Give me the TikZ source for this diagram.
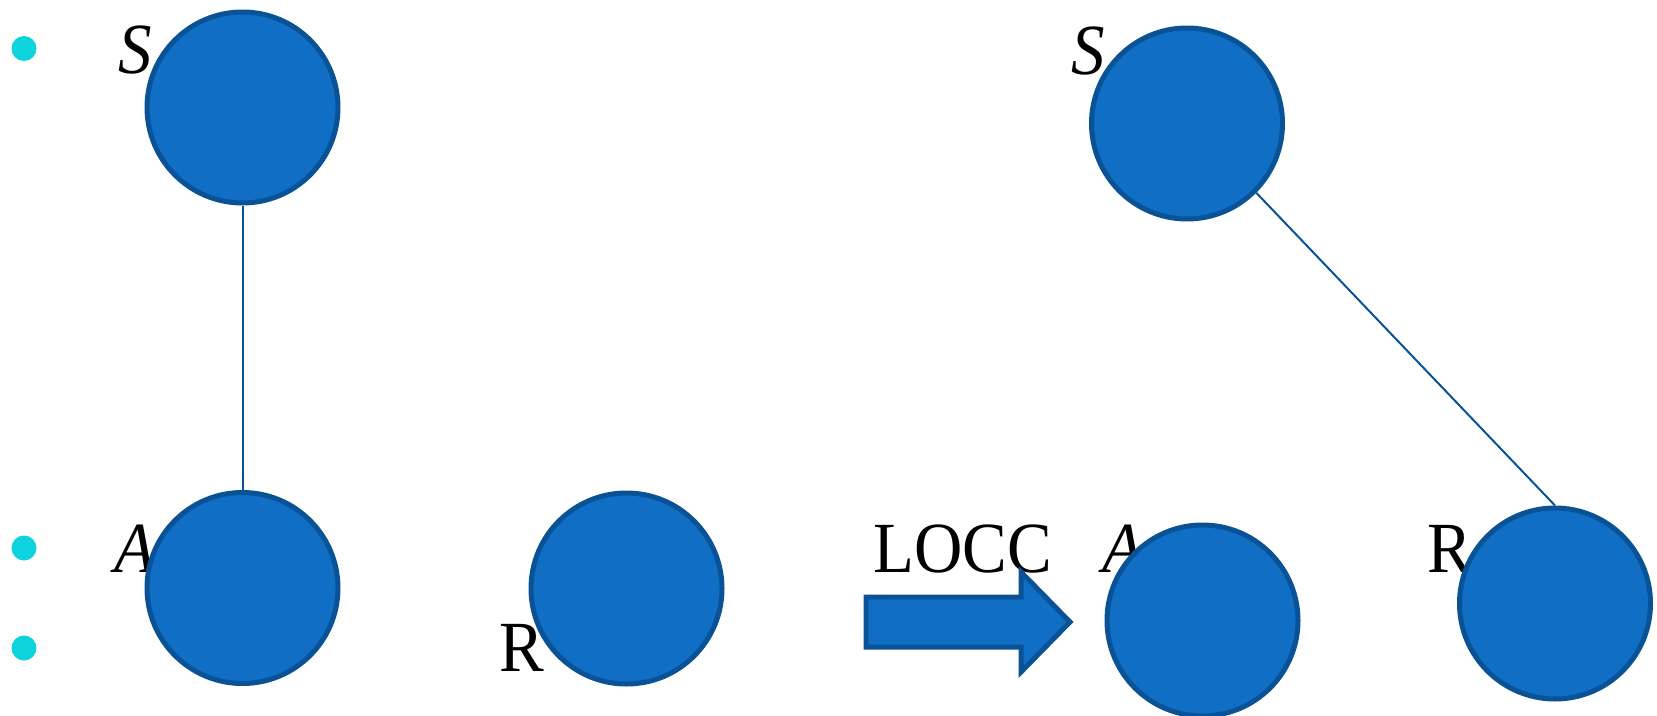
\documentclass[tikz,border=0pt]{standalone}
\usepackage{fontspec}
\setmainfont[FakeStretch=0.93]{Liberation Serif}
\definecolor{qfill}{RGB}{16,111,196}
\definecolor{qedge}{RGB}{10,82,150}
\definecolor{qdot}{RGB}{14,210,220}
\tikzset{
  qubit/.style={circle, fill=qfill, draw=qedge, line width=5pt, minimum size=191pt, inner sep=0pt},
  lbl/.style={anchor=base west, inner sep=0pt, font=\fontsize{72}{84}\selectfont},
  link/.style={draw=qedge, line width=2pt},
  bulletdot/.style={circle, fill=qdot, minimum size=25pt, inner sep=0pt},
  bigarrow/.style={fill=qfill, draw=qedge, line width=5pt, line join=miter}
}
\begin{document}
\begin{tikzpicture}[x=1pt, y=-1pt]
\useasboundingbox (0,0) rectangle (1657,715);

% bullets on the left margin
\node[bulletdot] (b1) at (24,48.5) {};
\node[bulletdot] (b2) at (24,548) {};
\node[bulletdot] (b3) at (24,648) {};

% party labels (set behind the circles)
\node[lbl] (lS1) at (118,73) {\textit{S}};
\node[lbl] (lA1) at (114,572) {\textit{A}};
\node[lbl] (lR1) at (499,671) {R};
\node[lbl] (lS2) at (1071,74) {\textit{S}};
\node[lbl] (lA2) at (1102,572) {\textit{A}};
\node[lbl] (lR2) at (1427,572) {R};
\node[lbl] (locc) at (873,572) {LOCC};

% before: S entangled with A, R separate
\node[qubit] (S1) at (242.5,107.5) {};
\node[qubit] (A1) at (242.5,588) {};
\node[qubit] (R1) at (626.5,588.5) {};
\draw[link] (S1.south) -- (A1.north);

% LOCC arrow
\path[bigarrow] (866,597) -- (1021,597) -- (1021,572) -- (1070,622) -- (1021,672) -- (1021,647) -- (866,647) -- cycle;

% after: S entangled with R
\node[qubit] (S2) at (1187,123.5) {};
\node[qubit] (A2) at (1202.5,620.5) {};
\node[qubit] (R2) at (1555,603.5) {};
\draw[link] (S2.-45) -- (R2.north);
\end{tikzpicture}
\end{document}
